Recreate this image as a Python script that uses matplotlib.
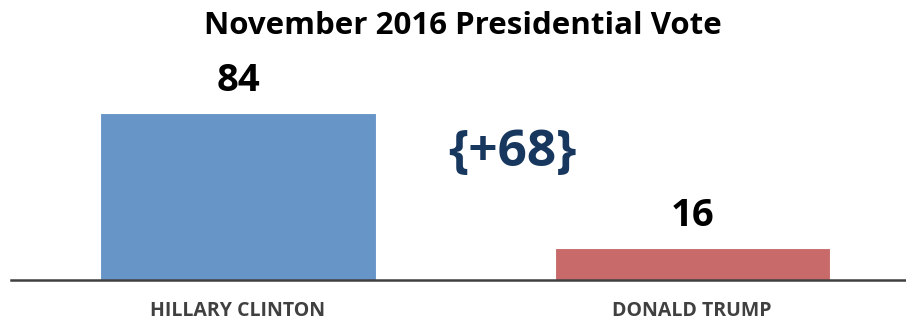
import matplotlib.pyplot as plt

# dados
candidatos = ["HILLARY CLINTON", "DONALD TRUMP"]
votos = [84, 16]
cores = ["#6895C8", "#C76A69"]
diferenca = votos[0] - votos[1]

plt.rcParams['font.family'] = ['Open Sans', 'DejaVu Sans']

fig = plt.figure(figsize=(9.06, 3.21), dpi=100)
ax = fig.add_axes([11 / 906, 41 / 321, 895 / 906, 195 / 321])

x = range(len(candidatos))
ax.bar(x, votos, width=0.606, color=cores, edgecolor="white", linewidth=0.8)

ax.set_xlim(-0.5, 1.471)
ax.set_ylim(0, 98)

# valores em cima das barras
for i, v in enumerate(votos):
    ax.text(i, v + 6.5, str(v), ha="center", va="bottom",
            fontsize=27.5, fontweight="bold", color="black")

ax.text(0.604, 64, "{+%d}" % diferenca, ha="center", va="center",
        fontsize=37, fontweight="bold", color="#17375E")

ax.set_xticks(list(x))
ax.set_xticklabels(candidatos, fontsize=14, fontweight="bold", color="#404040")
ax.tick_params(axis="x", length=0, pad=15)
ax.set_yticks([])

for s in ["top", "left", "right"]:
    ax.spines[s].set_visible(False)
ax.spines["bottom"].set_color("#404040")
ax.spines["bottom"].set_linewidth(1.8)

fig.text(0.511, 0.918, "November 2016 Presidential Vote", ha="center", va="center",
         fontsize=22.5, fontweight="bold", color="black")

fig.savefig("out.png", dpi=100)
